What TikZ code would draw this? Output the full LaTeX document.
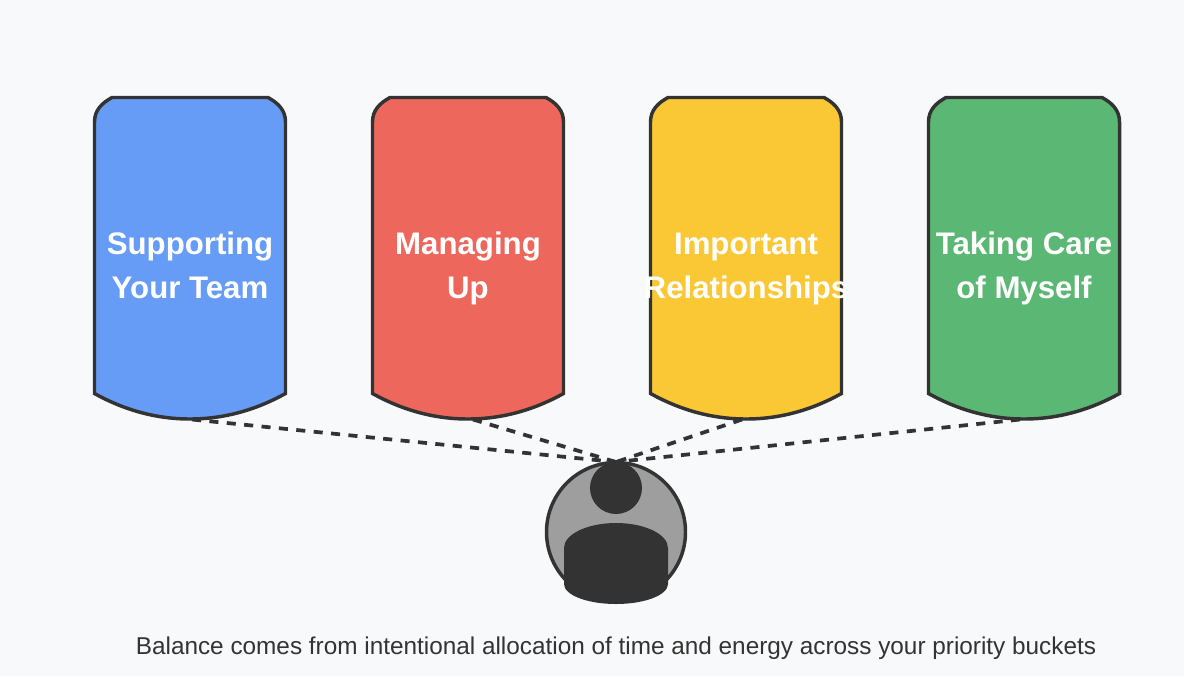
\documentclass[tikz,border=0pt]{standalone}
\usepackage{fontspec}
\setmainfont{Liberation Sans}
\definecolor{bgc}{HTML}{F8F9FA}
\definecolor{ink}{HTML}{333333}
\definecolor{bluec}{HTML}{669CF5}
\definecolor{redc}{HTML}{ED675C}
\definecolor{yellowc}{HTML}{FAC835}
\definecolor{greenc}{HTML}{5BB874}
\definecolor{greyc}{HTML}{9E9E9E}
\tikzset{
  bucket/.style={draw=ink,line width=2.6pt,line join=miter},
  tie/.style={draw=ink,line width=2.8pt,dash pattern=on 6.8pt off 6.3pt},
  bucketlabel/.style={text=white,font=\fontsize{23.4pt}{33pt}\selectfont\bfseries,align=center,inner sep=0pt},
  caption/.style={text=ink,font=\fontsize{18.25pt}{22pt}\selectfont,inner sep=0pt,anchor=base}
}
\newcommand{\bucketpath}[2]{% center x, fill
  \path[bucket,fill=#2] (#1-95.5,122) .. controls (#1-95.5,110) and (#1-88,103) .. (#1-78,97.5)
    -- (#1+78,97.5) .. controls (#1+88,103) and (#1+95.5,110) .. (#1+95.5,122)
    -- (#1+95.5,393.5) .. controls (#1+64,411) and (#1+32,419) .. (#1,419)
    .. controls (#1-32,419) and (#1-64,411) .. (#1-95.5,393.5) -- cycle;
}
\begin{document}
\begin{tikzpicture}[x=0.75pt,y=-0.75pt]
\useasboundingbox[fill=bgc] (0,0) rectangle (1184,676);
\bucketpath{190}{bluec}
\bucketpath{468}{redc}
\bucketpath{746}{yellowc}
\bucketpath{1024}{greenc}
\coordinate (b1) at (192,419.5);
\coordinate (b2) at (473,419.5);
\coordinate (b3) at (742,419.5);
\coordinate (b4) at (1020,419.5);
\coordinate (p) at (616,462);
\draw[tie] (b1) -- (p);
\draw[tie] (b2) -- (p);
\draw[tie] (b3) -- (p);
\draw[tie] (b4) -- (p);
\node[bucketlabel] (l1) at (190,267.2) {\strut Supporting\\\strut Your Team};
\node[bucketlabel] (l2) at (468,267.2) {\strut Managing\\\strut Up};
\node[bucketlabel] (l3) at (746,267.2) {\strut Important\\\strut Relationships};
\node[bucketlabel] (l4) at (1024,267.2) {\strut Taking Care\\\strut of Myself};
\draw[ink,fill=greyc,line width=2.6pt] (616,532) circle [radius=69.5];
\fill[ink] (616,488) circle [radius=26];
\fill[ink] (564,548) arc[start angle=180,end angle=360,x radius=52,y radius=25] -- (668,584) arc[start angle=0,end angle=180,x radius=52,y radius=20] -- cycle;
\node[caption] (cap) at (616,654) {Balance comes from intentional allocation of time and energy across your priority buckets};
\end{tikzpicture}
\end{document}
